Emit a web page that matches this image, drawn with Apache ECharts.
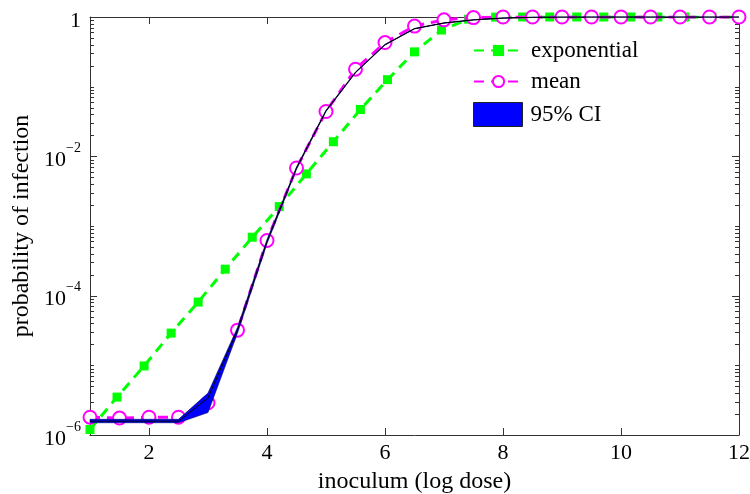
<!DOCTYPE html>
<html><head><meta charset="utf-8">
<script src="https://cdn.jsdelivr.net/npm/echarts@6/dist/echarts.min.js"></script>
<style>html,body{margin:0;padding:0;background:#fff}#c{width:750px;height:494px}</style>
</head><body><div id="c"></div>
<script>
// exponential model (green squares)
const expX = [1, 1.458, 1.917, 2.375, 2.833, 3.292, 3.75, 4.208, 4.667, 5.125, 5.583, 6.042, 6.5,
  6.958, 7.417, 7.875, 8.333, 8.792, 9.25, 9.708, 10.167, 10.625, 11.083, 11.542, 12];
const expY = [1.2e-6, 3.5e-6, 9.8e-6, 2.9e-5, 8.1e-5, 2.4e-4, 6.9e-4, 1.9e-3, 5.6e-3, 0.0162, 0.047, 0.126, 0.316,
  0.65, 0.93, 0.995, 1, 1, 1, 1, 1, 1, 1, 1, 1];
// mean (magenta circles)
const meanX = [1, 1.5, 2, 2.5, 3, 3.5, 4, 4.5, 5, 5.5, 6, 6.5, 7, 7.5, 8, 8.5, 9, 9.5, 10, 10.5, 11, 11.5, 12];
const meanY = [1.8e-6, 1.75e-6, 1.8e-6, 1.8e-6, 2.9e-6, 3.2e-5, 6.2e-4, 6.8e-3, 0.044, 0.178, 0.43, 0.74, 0.91, 0.98,
  1, 1, 1, 1, 1, 1, 1, 1, 1];
// black curve and 95% CI band (same x as meanX)
const curveY = [1.58e-6, 1.58e-6, 1.58e-6, 1.58e-6, 3.4e-6, 3.2e-5, 6.0e-4, 6.8e-3, 0.045, 0.16, 0.40, 0.68, 0.82, 0.91,
  0.965, 0.99, 0.997, 1, 1, 1, 1, 1, 1];
const ciLower = [1.5e-6, 1.5e-6, 1.5e-6, 1.5e-6, 2.1e-6, 2.9e-5, 5.6e-4, 6.5e-3, 0.044, 0.158, 0.395, 0.675, 0.815, 0.905,
  0.963, 0.989, 0.997, 1, 1, 1, 1, 1, 1];
const ciUpper = [1.68e-6, 1.68e-6, 1.68e-6, 1.68e-6, 4.0e-6, 3.5e-5, 6.4e-4, 7.0e-3, 0.046, 0.163, 0.405, 0.685, 0.825, 0.915,
  0.967, 0.991, 0.997, 1, 1, 1, 1, 1, 1];
// ticks
const xTicks = [2, 4, 6, 8, 10, 12];
const yTicks = [1e-6, 1e-4, 1e-2, 1];
const yMinorTicks = [];
for (let e = -6; e < 0; e++) for (let m = 1; m <= 9; m++) {
  if (!(m === 1 && e % 2 === 0)) yMinorTicks.push(m * Math.pow(10, e));
}

const FONT = 'Liberation Serif';
const AX = '#333';
const TK = '#333';
const X_MIN = 1, X_MAX = 12, Y_MIN = 1e-6, Y_MAX = 1;
const chart = echarts.init(document.getElementById('c'), null, {renderer: 'canvas'});

function zip(a, b) { return a.map((v, i) => [v, b[i]]); }

function tickSeg(p1, p2) {
  return {type: 'line', shape: {x1: p1[0], y1: p1[1], x2: p2[0], y2: p2[1]},
    style: {stroke: TK, lineWidth: 1}};
}

const option = {
  animation: false,
  backgroundColor: '#fff',
  grid: {left: 90, right: 11, top: 17, bottom: 59, containLabel: false, outerBoundsMode: 'none'},
  xAxis: [
    {
      type: 'value', min: X_MIN, max: X_MAX, position: 'bottom',
      splitLine: {show: false},
      axisLine: {show: true, onZero: false, lineStyle: {color: AX, width: 1}},
      axisTick: {show: false},
      axisLabel: {show: true, customValues: xTicks, margin: 7, fontFamily: FONT, fontSize: 22, color: '#000'},
      name: 'inoculum (log dose)', nameLocation: 'middle', nameGap: 35,
      nameTextStyle: {fontFamily: FONT, fontSize: 24, color: '#000'}
    },
    {
      type: 'value', min: X_MIN, max: X_MAX, position: 'top',
      splitLine: {show: false},
      axisLine: {show: true, onZero: false, lineStyle: {color: AX, width: 1}},
      axisTick: {show: false}, axisLabel: {show: false}
    }
  ],
  yAxis: [
    {
      type: 'log', logBase: 10, min: Y_MIN, max: Y_MAX, position: 'left',
      splitLine: {show: false},
      axisLine: {show: true, onZero: false, lineStyle: {color: AX, width: 1}},
      axisTick: {show: false},
      axisLabel: {
        show: true, customValues: yTicks, margin: 9, color: '#000',
        formatter: function (v) {
          if (v >= 0.999) return '{b|1}';
          const e = Math.round(Math.log10(v));
          return '{b|10}{s|\u2212' + Math.abs(e) + '}';
        },
        rich: {
          b: {fontFamily: FONT, fontSize: 22, lineHeight: 30, verticalAlign: 'bottom', color: '#000'},
          s: {fontFamily: FONT, fontSize: 14, lineHeight: 14, verticalAlign: 'top', color: '#000'}
        }
      },
      name: 'probability of infection', nameLocation: 'middle', nameGap: 54,
      nameTextStyle: {fontFamily: FONT, fontSize: 24, color: '#000'}
    },
    {
      type: 'log', logBase: 10, min: Y_MIN, max: Y_MAX, position: 'right',
      splitLine: {show: false},
      axisLine: {show: true, onZero: false, lineStyle: {color: AX, width: 1}},
      axisTick: {show: false}, axisLabel: {show: false}
    }
  ],
  legend: [
    {
      data: ['exponential', 'mean'], orient: 'vertical', left: 473, top: 39,
      itemWidth: 49, itemHeight: 14, itemGap: 8, selectedMode: false, padding: 0,
      textStyle: {fontFamily: FONT, fontSize: 23, color: '#000', padding: [0, 0, 0, 3]}
    },
    {
      data: [{name: '95% CI', icon: 'rect'}], orient: 'vertical', left: 473, top: 102,
      itemWidth: 49, itemHeight: 24, selectedMode: false, padding: 0,
      itemStyle: {borderColor: '#222', borderWidth: 1},
      textStyle: {fontFamily: FONT, fontSize: 23, color: '#000', padding: [0, 0, 0, 3]}
    }
  ],
  series: [
    {
      name: 'ticks', type: 'custom', z: 1, silent: true,
      data: [[X_MIN, Y_MIN]],
      renderItem: function (params, api) {
        const els = [];
        xTicks.forEach(v => {
          const b = api.coord([v, Y_MIN]), t = api.coord([v, Y_MAX]);
          const x = Math.round(b[0]) + 0.5;
          els.push(tickSeg([x, b[1]], [x, b[1] - 7]));
          els.push(tickSeg([x, t[1]], [x, t[1] + 7]));
        });
        const addY = (v, len) => {
          const l = api.coord([X_MIN, v]), r = api.coord([X_MAX, v]);
          const y = Math.round(l[1]) + 0.5;
          els.push(tickSeg([l[0], y], [l[0] + len, y]));
          els.push(tickSeg([r[0], y], [r[0] - len, y]));
        };
        yTicks.forEach(v => addY(v, 7));
        yMinorTicks.forEach(v => addY(v, 4));
        return {type: 'group', children: els};
      }
    },
    {
      name: 'exponential', type: 'line', data: zip(expX, expY),
      color: '#00ff00', symbol: 'rect', symbolSize: 9,
      itemStyle: {color: '#00ff00'},
      lineStyle: {color: '#00ff00', width: 3, type: [10, 7]}, z: 2
    },
    {
      name: 'mean', type: 'line', data: zip(meanX, meanY),
      color: '#ff00ff', symbol: 'emptyCircle', symbolSize: 13,
      itemStyle: {color: '#ff00ff', borderColor: '#ff00ff', borderWidth: 3},
      lineStyle: {color: '#ff00ff', width: 3, type: [10, 7]}, z: 3
    },
    {
      name: '95% CI', type: 'custom', z: 4,
      itemStyle: {color: '#0000ff', borderColor: '#222', borderWidth: 1},
      data: [[meanX[0], ciLower[0]]],
      renderItem: function (params, api) {
        const pts = [];
        for (let i = 0; i < meanX.length; i++) pts.push(api.coord([meanX[i], ciUpper[i]]));
        for (let i = meanX.length - 1; i >= 0; i--) pts.push(api.coord([meanX[i], ciLower[i]]));
        return {type: 'polygon', shape: {points: pts},
          style: {fill: '#0000ff', stroke: '#000060', lineWidth: 0.6}};
      }
    },
    {
      name: 'curve', type: 'line', data: zip(meanX, curveY), symbol: 'none',
      lineStyle: {color: '#000', width: 1}, color: '#000', z: 5
    }
  ]
};
chart.setOption(option);
</script>
</body></html>
